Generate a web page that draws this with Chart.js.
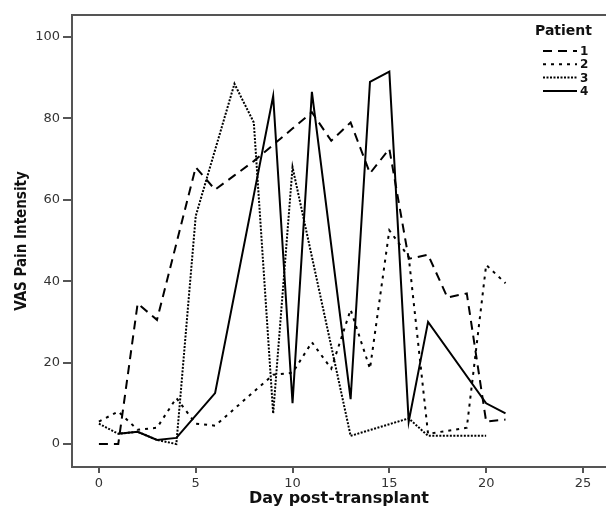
<!DOCTYPE html>
<html>
<head>
<meta charset="utf-8">
<script src="https://cdn.jsdelivr.net/npm/chart.js@4.4.1/dist/chart.umd.min.js"></script>
<style>
  html, body { margin: 0; padding: 0; background: #fff; }
  canvas { display: block; }
</style>
</head>
<body>
<canvas id="chart" width="606" height="512"></canvas>
<script>
// one slot per day post-transplant, null = no VAS score recorded that day
const days = [0, 1, 2, 3, 4, 5, 6, 7, 8, 9, 10, 11, 12, 13, 14, 15, 16, 17, 18, 19, 20, 21];
const patient1 = [0, 0, 34.5, 30.5, null, 68, 62.5, 66, 69.5, 73.5, 77.5, 81.5, 74.5, 79, 66.5, 72.5, 45.5, 46.5, 36, 37, 5.5, 6];
const patient2 = [5.5, 8, 3.5, 4, 11.3, 5, 4.5, null, null, 17, 17.5, 25, 18.5, 33, 18.5, 52.5, 46, 2.5, null, 4, 44, 39.5];
const patient3 = [5, 2.5, 3, 1, 0, 56, null, 88.5, 79, 7.5, 68, null, null, 2, null, null, 6.3, 2, null, null, 2, null];
const patient4 = [null, 2.5, 3, 1, 1.5, null, 12.5, null, null, 85.5, 10, 86.5, null, 11, 89, 91.5, 5.5, 30, null, null, 10, 7.5];
const patientNames = ['1', '2', '3', '4'];

const xTicks = [0, 5, 10, 15, 20, 25];
const yTicks = [0, 20, 40, 60, 80, 100];

const axisGrey = '#555';

function toPoints(values) {
    return days.map((d, i) => ({ x: d, y: values[i] }));
}

function line(label, values, dash) {
    return {
        label: label,
        data: toPoints(values),
        borderColor: '#000',
        borderWidth: 2,
        borderDash: dash,
        pointRadius: 0,
        tension: 0,
        fill: false,
        spanGaps: true
    };
}

// legend box in the top right corner + the frame line along the top
const patientLegend = {
    id: 'patientLegend',
    afterDraw(chart) {
        const ctx = chart.ctx;
        const area = chart.chartArea;
        ctx.save();
        ctx.strokeStyle = axisGrey;
        ctx.lineWidth = 2;
        ctx.beginPath();
        ctx.moveTo(area.left - 1, area.top);
        ctx.lineTo(area.right, area.top);
        ctx.stroke();

        ctx.fillStyle = '#111';
        ctx.textBaseline = 'middle';
        ctx.font = 'bold 14px "DejaVu Sans"';
        ctx.fillText('Patient', 535, 31);
        ctx.font = 'bold 12px "DejaVu Sans"';
        chart.data.datasets.forEach((ds, i) => {
            const y = 51 + i * 13.3;
            ctx.strokeStyle = ds.borderColor;
            ctx.lineWidth = 2;
            ctx.setLineDash(ds.borderDash);
            ctx.beginPath();
            ctx.moveTo(543, y);
            ctx.lineTo(577, y);
            ctx.stroke();
            ctx.setLineDash([]);
            ctx.fillText(ds.label, 580, y + 1);
        });
        ctx.restore();
    }
};

const ctx = document.getElementById('chart').getContext('2d');

const myChart = new Chart(ctx, {
    type: 'line',
    data: {
        datasets: [
            line(patientNames[0], patient1, [9, 6]),
            line(patientNames[1], patient2, [3, 5]),
            line(patientNames[2], patient3, [2, 1.5]),
            line(patientNames[3], patient4, [])
        ]
    },
    plugins: [patientLegend],
    options: {
        responsive: false,
        animation: false,
        layout: { padding: { top: 15, right: 0, left: 0, bottom: 0 } },
        plugins: {
            legend: { display: false },
            tooltip: { enabled: false }
        },
        scales: {
            x: {
                type: 'linear',
                min: -1.39,
                max: 26.19,
                afterBuildTicks: scale => { scale.ticks = xTicks.map(v => ({ value: v })); },
                afterFit: scale => { scale.height = 45; },
                grid: { drawOnChartArea: false, drawTicks: true, tickLength: 6, color: axisGrey, lineWidth: 2 },
                border: { display: true, color: axisGrey, width: 2 },
                ticks: { color: '#333', padding: 3, font: { family: 'DejaVu Sans', size: 13 } },
                title: {
                    display: true,
                    text: 'Day post-transplant',
                    color: '#111',
                    font: { family: 'DejaVu Sans', size: 16, weight: 'bold' },
                    padding: { top: 0, bottom: 4 }
                }
            },
            y: {
                min: -5.65,
                max: 105.4,
                afterBuildTicks: scale => { scale.ticks = yTicks.map(v => ({ value: v })); },
                afterFit: scale => { scale.width = 72; },
                grid: { drawOnChartArea: false, drawTicks: true, tickLength: 9, color: axisGrey, lineWidth: 2 },
                border: { display: true, color: axisGrey, width: 2 },
                ticks: { color: '#333', padding: 3, font: { family: 'DejaVu Sans', size: 13 } },
                title: {
                    display: true,
                    text: 'VAS Pain Intensity',
                    color: '#111',
                    font: { family: '"Liberation Sans Narrow", "Arial Narrow", "DejaVu Sans Condensed", sans-serif', size: 15, weight: 'bold' },
                    padding: { top: 13, bottom: 0 }
                }
            }
        }
    }
});
</script>
</body>
</html>
